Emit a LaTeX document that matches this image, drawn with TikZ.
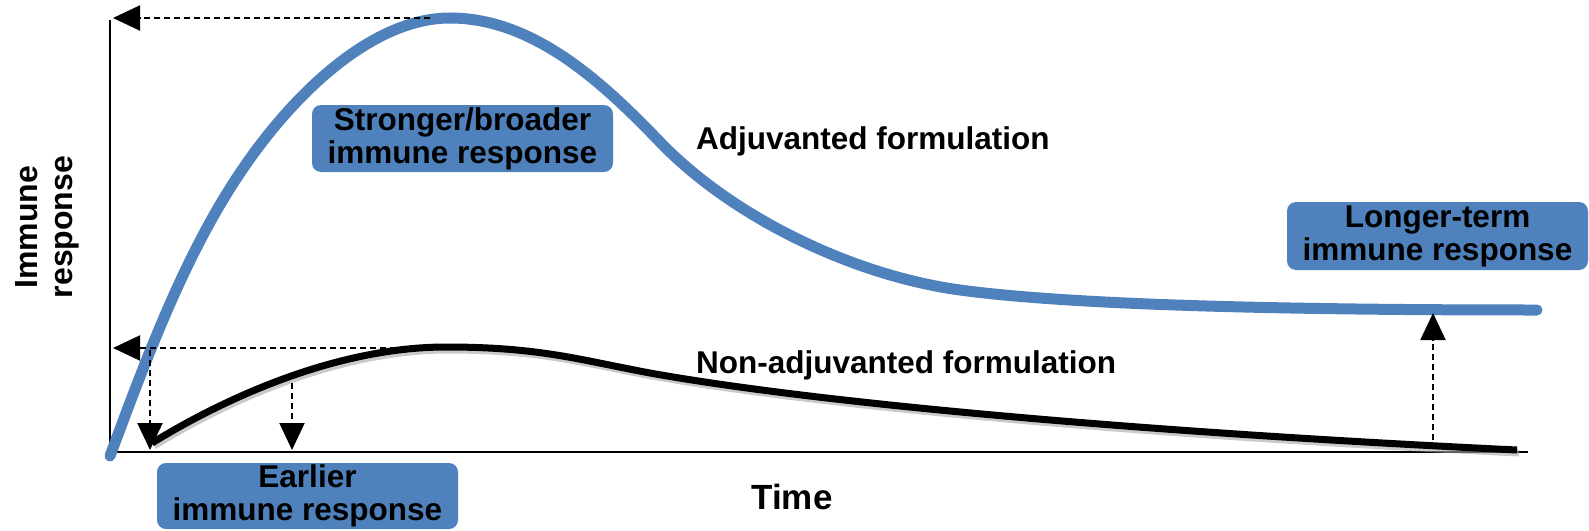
\documentclass[tikz,border=0pt]{standalone}
\usepackage{fontspec}
\setmainfont{Liberation Sans}
\usetikzlibrary{arrows.meta}
\definecolor{ablue}{RGB}{79,129,189}
\begin{document}
\begin{tikzpicture}[x=1pt,y=-1pt,
  lbl/.style={font=\fontsize{31.5}{33}\selectfont\bfseries, inner sep=0pt},
  box/.style={lbl, fill=ablue, text=black, rounded corners=9pt, align=center},
  darr/.style={draw=black, line width=2pt, dash pattern=on 6pt off 4pt, -{Triangle[length=27pt,width=25pt]}},
  axis/.style={draw=black, line width=1.5pt},
  bluecurve/.style={draw=ablue, line width=11pt, line cap=round},
  blackcurve/.style={draw=black, line width=7pt},
  shadowcurve/.style={draw=black!35, line width=7pt, opacity=0.6}]
\useasboundingbox (0,0) rectangle (1589,530);

% axes
\coordinate (origin) at (110,452);
\coordinate (ytop) at (110,20);
\coordinate (xend) at (1528,452);
\draw[axis] (ytop) -- (origin) -- (xend);

% adjuvanted (blue) curve
\draw[bluecurve] (110,456) .. controls (145,362) and (184,256) .. (240,173)
  .. controls (290,98) and (370,18) .. (450,18)
  .. controls (535,18) and (605,85) .. (660,142)
  .. controls (730,215) and (850,275) .. (960,290)
  .. controls (1060,303.6) and (1250,310) .. (1537,310);

% non-adjuvanted (black) curve with shadow
\begin{scope}[shift={(2,3)}]
\draw[shadowcurve] (152,443) .. controls (230,395) and (340,347) .. (446,347)
  .. controls (540,347) and (580,360) .. (650,373)
  .. controls (800,400) and (1100,430) .. (1517,450);
\end{scope}
\draw[blackcurve] (152,443) .. controls (230,395) and (340,347) .. (446,347)
  .. controls (540,347) and (580,360) .. (650,373)
  .. controls (800,400) and (1100,430) .. (1517,450);

% dashed arrows
\coordinate (peakA) at (430,18);
\coordinate (peakAtip) at (113,18);
\coordinate (peakN) at (446,348);
\coordinate (peakNtip) at (113,348);
\coordinate (e1s) at (150,350);
\coordinate (e1t) at (150,450);
\coordinate (e2s) at (292,383);
\coordinate (e2t) at (292,450);
\coordinate (ls) at (1433,440);
\coordinate (lt) at (1433,313);
\draw[darr] (peakA) -- (peakAtip);
\draw[darr] (peakN) -- (peakNtip);
\draw[darr] (e1s) -- (e1t);
\draw[darr] (e2s) -- (e2t);
\draw[darr] (ls) -- (lt);

% boxes
\node[box, minimum width=301pt, minimum height=67pt] (strong) at (462.5,138.5) {Stronger/broader\\immune response};
\node[box, minimum width=301pt, minimum height=68pt] (longer) at (1437.5,236) {Longer-term\\immune response};
\node[box, minimum width=301pt, minimum height=66pt] (earlier) at (307.5,496) {Earlier\\immune response};

% labels
\node[lbl, anchor=base west] (adj) at (696,149) {Adjuvanted formulation};
\node[lbl, anchor=base west] (nonadj) at (696,373) {Non-adjuvanted formulation};
\node[lbl, font=\fontsize{35}{38}\selectfont\bfseries, anchor=base] (time) at (792,509) {Time};
\node[lbl, font=\fontsize{32}{35}\selectfont\bfseries, rotate=90, align=center] (ylab) at (47,227) {Immune\\response};
\end{tikzpicture}
\end{document}
